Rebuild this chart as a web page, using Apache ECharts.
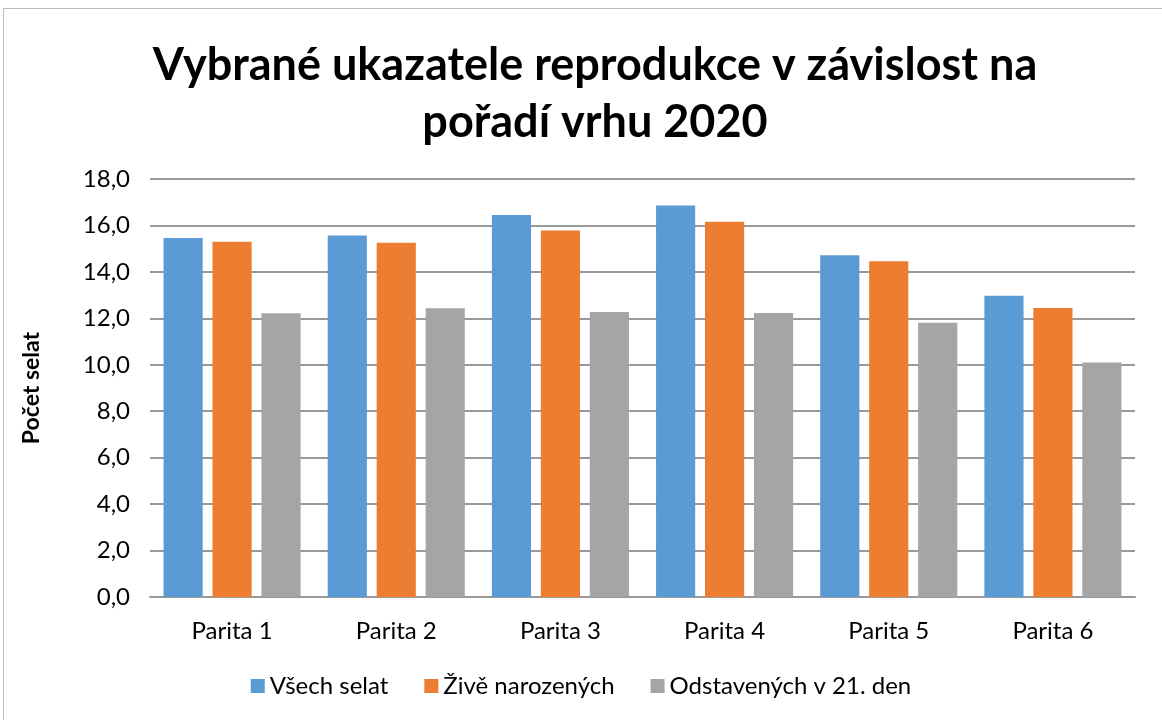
<!DOCTYPE html>
<html><head><meta charset="utf-8">
<script src="https://cdn.jsdelivr.net/npm/echarts@6/dist/echarts.min.js"></script>
<style>
html,body{margin:0;padding:0;background:#fff;}
#frame{position:absolute;left:3px;top:8px;width:1160px;height:720px;border:1px solid #bdbdbd;box-sizing:border-box;}
#chart{position:absolute;left:0;top:0;width:1162px;height:720px;}
</style></head>
<body><div id="frame"></div><div id="chart"></div>
<script>
const categories = ['Parita 1','Parita 2','Parita 3','Parita 4','Parita 5','Parita 6'];
const seriesNames = ['Všech selat','Živě narozených','Odstavených v 21. den'];
const vsechSelat = [15.46, 15.57, 16.45, 16.86, 14.72, 12.97];
const ziveNarozenych = [15.30, 15.25, 15.78, 16.16, 14.46, 12.44];
const odstavenych = [12.22, 12.43, 12.27, 12.23, 11.81, 10.10];
const colors = ['#5b9bd5','#ed7d31','#a5a5a5'];
const font = 'Lato, "Open Sans", sans-serif';

const chart = echarts.init(document.getElementById('chart'));
chart.setOption({
  animation:false,
  title:{text:'Vybrané ukazatele reprodukce v závislost na\npořadí vrhu 2020',left:590,textAlign:'center',top:32,
    textStyle:{fontFamily:font,fontSize:45,fontWeight:'bold',color:'#000',lineHeight:57}},
  legend:{bottom:17,left:'center',itemWidth:14,itemHeight:14,itemGap:36,icon:'rect',
    textStyle:{fontFamily:font,fontSize:24,color:'#000'},data:seriesNames},
  grid:{left:150,right:27,top:179,bottom:123},
  xAxis:{type:'category',data:categories,axisTick:{show:false},
    axisLine:{lineStyle:{color:'#999',width:2}},
    axisLabel:{fontFamily:font,fontSize:24,color:'#000',margin:22}},
  yAxis:{type:'value',min:0,max:18,interval:2,name:'Počet selat',nameLocation:'middle',nameGap:107,nameRotate:90,
    nameTextStyle:{fontFamily:font,fontSize:23,fontWeight:'bold',color:'#000'},
    axisLabel:{fontFamily:font,fontSize:24,color:'#000',margin:20,formatter:v=>v.toFixed(1).replace('.',',')},
    splitLine:{lineStyle:{color:'#999',width:2}}},
  series:[
    {name:seriesNames[0],type:'bar',data:vsechSelat,itemStyle:{color:colors[0]},barGap:'25%',barCategoryGap:'16.5%'},
    {name:seriesNames[1],type:'bar',data:ziveNarozenych,itemStyle:{color:colors[1]}},
    {name:seriesNames[2],type:'bar',data:odstavenych,itemStyle:{color:colors[2]}}
  ]
});
</script></body></html>
